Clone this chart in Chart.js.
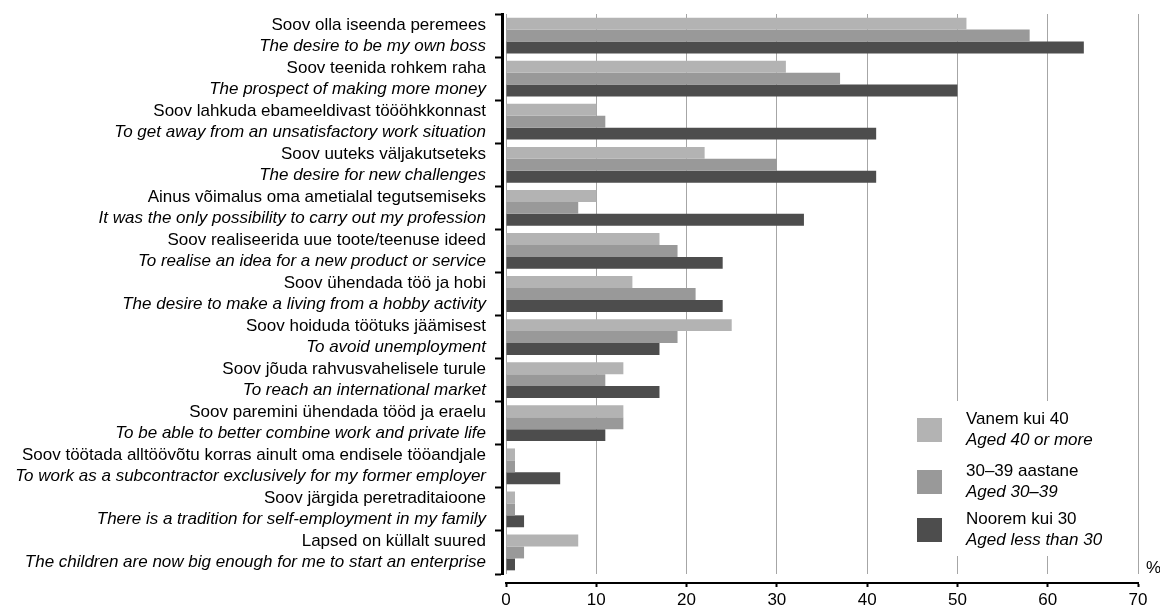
<!DOCTYPE html>
<html>
<head>
<meta charset="utf-8">
<title>Ettevõtluse motiivid vanuserühmade kaupa</title>
<script src="https://cdn.jsdelivr.net/npm/chart.js@4.4.1/dist/chart.umd.min.js"></script>
<style>
  body { margin: 0; background: #fff; }
  canvas { display: block; }
</style>
</head>
<body>
<canvas id="canvas" width="1160" height="606"></canvas>
<script>
'use strict';

var labelsEt = [
  'Soov olla iseenda peremees',
  'Soov teenida rohkem raha',
  'Soov lahkuda ebameeldivast töööhkkonnast',
  'Soov uuteks väljakutseteks',
  'Ainus võimalus oma ametialal tegutsemiseks',
  'Soov realiseerida uue toote/teenuse ideed',
  'Soov ühendada töö ja hobi',
  'Soov hoiduda töötuks jäämisest',
  'Soov jõuda rahvusvahelisele turule',
  'Soov paremini ühendada tööd ja eraelu',
  'Soov töötada alltöövõtu korras ainult oma endisele tööandjale',
  'Soov järgida peretraditaioone',
  'Lapsed on küllalt suured'
];
var labelsEn = [
  'The desire to be my own boss',
  'The prospect of making more money',
  'To get away from an unsatisfactory work situation',
  'The desire for new challenges',
  'It was the only possibility to carry out my profession',
  'To realise an idea for a new product or service',
  'The desire to make a living from a hobby activity',
  'To avoid unemployment',
  'To reach an international market',
  'To be able to better combine work and private life',
  'To work as a subcontractor exclusively for my former employer',
  'There is a tradition for self-employment in my family',
  'The children are now big enough for me to start an enterprise'
];

var seriesEt = ['Vanem kui 40', '30–39 aastane', 'Noorem kui 30'];
var seriesEn = ['Aged 40 or more', 'Aged 30–39', 'Aged less than 30'];
var seriesColors = ['#b3b3b3', '#999999', '#4d4d4d'];

var olderValues = [51, 31, 10, 22, 10, 17, 14, 25, 13, 13, 1, 1, 8];
var middleValues = [58, 37, 11, 30, 8, 19, 21, 19, 11, 13, 1, 1, 2];
var youngerValues = [64, 50, 41, 41, 33, 24, 24, 17, 17, 11, 6, 2, 1];

var xMin = 0;
var xMax = 70;
var xStep = 10;
var unitLabel = '%';

var fontName = '"Liberation Sans", Arial, sans-serif';
Chart.defaults.font.family = fontName;
Chart.defaults.font.size = 17;
Chart.defaults.color = '#000';

// legend is drawn by hand because of the italic second line
var legendBox = { x: 905, y: 401, w: 215, h: 155 };
var legendSwatchX = 917;
var legendTextX = 966;
var legendTops = [418, 470, 518];

var textPlugin = {
  id: 'textPlugin',
  afterDraw: function (chart) {
    var ctx = chart.ctx;
    var yScale = chart.scales.y;
    var area = chart.chartArea;
    ctx.save();
    ctx.fillStyle = '#000';
    ctx.textBaseline = 'alphabetic';

    // two line category labels
    ctx.textAlign = 'right';
    for (var i = 0; i < labelsEt.length; i++) {
      var mid = yScale.getPixelForTick(i);
      ctx.font = '17px ' + fontName;
      ctx.fillText(labelsEt[i], area.left - 20, mid - 6);
      ctx.font = 'italic 17px ' + fontName;
      ctx.fillText(labelsEn[i], area.left - 20, mid + 15);
    }

    ctx.textAlign = 'left';
    ctx.font = '17px ' + fontName;
    ctx.fillText(unitLabel, area.right + 8, area.bottom - 1);

    // white box hides the grid lines behind the legend
    ctx.fillStyle = '#fff';
    ctx.fillRect(legendBox.x, legendBox.y, legendBox.w, legendBox.h);
    for (var k = 0; k < seriesEt.length; k++) {
      var top = legendTops[k];
      ctx.fillStyle = seriesColors[k];
      ctx.fillRect(legendSwatchX, top, 25, 24);
      ctx.fillStyle = '#000';
      ctx.font = '17px ' + fontName;
      ctx.fillText(seriesEt[k], legendTextX, top + 6);
      ctx.font = 'italic 17px ' + fontName;
      ctx.fillText(seriesEn[k], legendTextX, top + 27);
    }
    ctx.restore();
  }
};

var canvas = document.getElementById('canvas');
var ctx = canvas.getContext('2d');

var chartStuff = {
  type: 'bar',
  data: {
    labels: labelsEt,
    datasets: [{
      label: seriesEt[0],
      data: olderValues,
      backgroundColor: seriesColors[0]
    }, {
      label: seriesEt[1],
      data: middleValues,
      backgroundColor: seriesColors[1]
    }, {
      label: seriesEt[2],
      data: youngerValues,
      backgroundColor: seriesColors[2]
    }]
  },
  options: {
    indexAxis: 'y',
    responsive: false,
    animation: false,
    datasets: {
      bar: {
        categoryPercentage: 0.83,
        barPercentage: 1.0,
        borderWidth: 0
      }
    },
    layout: {
      padding: { top: 14, right: 22, bottom: 0, left: 0 }
    },
    plugins: {
      legend: { display: false },
      tooltip: { enabled: false }
    },
    scales: {
      x: {
        type: 'linear',
        min: xMin,
        max: xMax,
        weight: 0,
        ticks: { display: false, stepSize: xStep },
        border: { display: false },
        grid: {
          drawTicks: false,
          lineWidth: 1,
          color: '#a6a6a6'
        },
        afterFit: function (scale) { scale.height = 9; }
      },
      x2: {
        type: 'linear',
        axis: 'x',
        position: 'bottom',
        min: xMin,
        max: xMax,
        weight: 1,
        ticks: { stepSize: xStep, padding: 3, color: '#000', font: { size: 17 } },
        border: { display: true, color: '#000', width: 2 },
        grid: {
          drawOnChartArea: false,
          drawTicks: true,
          tickLength: 4,
          tickColor: '#000',
          tickWidth: 2
        },
        afterFit: function (scale) { scale.height = 23; }
      },
      y: {
        type: 'category',
        weight: 0,
        ticks: { display: false },
        border: { display: false },
        grid: { display: false },
        afterFit: function (scale) { scale.width = 4; }
      },
      y2: {
        type: 'category',
        axis: 'y',
        position: 'left',
        weight: 1,
        labels: labelsEt,
        ticks: { display: false },
        border: { display: true, color: '#000', width: 3 },
        grid: {
          offset: true,
          drawOnChartArea: false,
          drawTicks: true,
          tickLength: 7,
          tickColor: '#000',
          tickWidth: 2
        },
        afterFit: function (scale) { scale.width = 502; }
      }
    }
  },
  plugins: [textPlugin]
};

var barChart = new Chart(ctx, chartStuff);
</script>
</body>
</html>
